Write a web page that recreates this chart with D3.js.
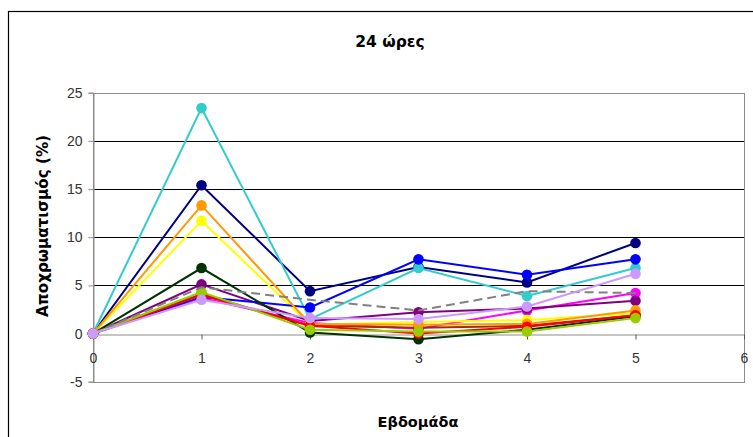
<!DOCTYPE html>
<html>
<head>
<meta charset="utf-8">
<script src="https://cdn.jsdelivr.net/npm/d3@7/dist/d3.min.js"></script>
<style>
  html, body { margin: 0; padding: 0; background: #fff; }
  svg { display: block; font-family: "Liberation Sans", Arial, sans-serif; }
</style>
</head>
<body>
<svg id="chart" width="753" height="437"></svg>
<script>
// Weeks on the x axis
const weeks = [0, 1, 2, 3, 4, 5];
const xTicks = [0, 1, 2, 3, 4, 5, 6];
const yTicks = [-5, 0, 5, 10, 15, 20, 25];

// Discolouration (%) per sample, one array per line
const navyValues     = [0, 15.4, 4.4, 6.9, 5.3, 9.4];
const magentaValues  = [0, 3.7, 1.1, 0.5, 2.4, 4.2];
const yellowValues   = [0, 11.7, 0.9, 1.2, 1.4, 2.1];
const cyanValues     = [0, 23.4, 1.5, 6.8, 3.9, 6.8];
const purpleValues   = [0, 5.1, 1.3, 2.2, 2.6, 3.4];
const brownValues    = [0, 4.1, 0.8, 0.6, 0.8, 1.9];
const blueValues     = [0, 3.8, 2.7, 7.7, 6.1, 7.7];
const darkGreenValues= [0, 6.8, 0.1, -0.6, 0.4, 1.8];
const orangeValues   = [0, 13.3, 1.0, 0.9, 1.0, 2.4];
const redValues      = [0, 4.0, 0.8, 0.0, 0.7, 1.9];
const limeValues     = [0, 4.3, 0.4, 0.2, 0.2, 1.6];
const averageValues  = [0, 4.8, 3.5, 2.4, 4.4, 4.2];
const lavenderValues = [0, 3.5, 1.6, 1.5, 2.8, 6.2];

const series = [
  { values: navyValues,      color: "#000080" },
  { values: magentaValues,   color: "#FF00FF" },
  { values: yellowValues,    color: "#FFFF00" },
  { values: cyanValues,      color: "#33CCCC" },
  { values: purpleValues,    color: "#800080" },
  { values: brownValues,     color: "#993300" },
  { values: blueValues,      color: "#0000FF" },
  { values: darkGreenValues, color: "#003300" },
  { values: orangeValues,    color: "#FF9900" },
  { values: redValues,       color: "#FF0000" },
  { values: limeValues,      color: "#99CC00" },
  { values: averageValues,   color: "#808080", dashed: true },
  { values: lavenderValues,  color: "#CC99FF" }
];

const svg = d3.select("#chart");
const tickFont = "'Liberation Sans', Arial, sans-serif";
const titleFont = "'DejaVu Sans', Verdana, sans-serif";

// Chart frame
svg.append("rect")
  .attr("x", 8.5).attr("y", 11.5)
  .attr("width", 760).attr("height", 440)
  .attr("fill", "#fff").attr("stroke", "#000").attr("stroke-width", 1.2);

const plot = { left: 93, right: 744, top: 92.7, bottom: 381.7 };

const x = d3.scaleLinear().domain([0, 6]).range([plot.left, plot.right]);
const y = d3.scaleLinear().domain([-5, 25]).range([plot.bottom, plot.top]);

// Horizontal gridlines
svg.append("g")
  .selectAll("line")
  .data(yTicks.filter(t => t > 0 && t < 25))
  .join("line")
  .attr("x1", plot.left).attr("x2", plot.right)
  .attr("y1", d => Math.round(y(d)) + 0.5).attr("y2", d => Math.round(y(d)) + 0.5)
  .attr("stroke", "#000").attr("stroke-width", 1);

// Plot area border
svg.append("rect")
  .attr("x", plot.left + 0.5).attr("y", Math.round(plot.top) + 0.5)
  .attr("width", plot.right - plot.left)
  .attr("height", Math.round(plot.bottom) - Math.round(plot.top))
  .attr("fill", "none").attr("stroke", "#8c8c8c").attr("stroke-width", 1);

// Y axis
const yAxis = svg.append("g")
  .attr("transform", `translate(${plot.left + 0.5},0)`)
  .call(d3.axisLeft(y).tickValues(yTicks).tickSize(5).tickPadding(6)
    .tickFormat(d => String(d)));
yAxis.select(".domain").attr("stroke", "#8c8c8c");
yAxis.selectAll(".tick line").attr("stroke", "#8c8c8c");
yAxis.selectAll(".tick text")
  .attr("font-size", 14).attr("fill", "#333")
  .attr("font-family", tickFont);

// X axis along the zero line
const xAxis = svg.append("g")
  .attr("transform", `translate(0,${Math.round(y(0)) + 0.5})`)
  .call(d3.axisBottom(x).tickValues(xTicks).tickSize(5).tickPadding(14)
    .tickFormat(d => String(d)));
xAxis.select(".domain").attr("stroke", "#8c8c8c");
xAxis.selectAll(".tick line").attr("stroke", "#555");
xAxis.selectAll(".tick text")
  .attr("font-size", 14).attr("fill", "#333")
  .attr("font-family", tickFont);

// Lines and markers
const line = d3.line()
  .x((d, i) => x(weeks[i]))
  .y(d => y(d));

const g = svg.append("g");
series.forEach(s => {
  g.append("path")
    .datum(s.values)
    .attr("d", line)
    .attr("fill", "none")
    .attr("stroke", s.color)
    .attr("stroke-width", 2)
    .attr("stroke-dasharray", s.dashed ? "9,5" : null);
  if (!s.dashed) {
    g.selectAll(null)
      .data(s.values)
      .join("circle")
      .attr("cx", (d, i) => x(weeks[i]))
      .attr("cy", d => y(d))
      .attr("r", 5.3)
      .attr("fill", s.color);
  }
});

// Titles
svg.append("text")
  .attr("x", 390).attr("y", 47)
  .attr("text-anchor", "middle")
  .attr("font-family", titleFont)
  .attr("font-size", 15.5).attr("font-weight", "bold")
  .text("24 ώρες");

svg.append("text")
  .attr("x", 418).attr("y", 427)
  .attr("text-anchor", "middle")
  .attr("font-family", titleFont)
  .attr("font-size", 14.5).attr("font-weight", "bold")
  .text("Εβδομάδα");

svg.append("text")
  .attr("transform", "translate(48,226) rotate(-90)")
  .attr("text-anchor", "middle")
  .attr("font-family", titleFont)
  .attr("font-size", 15.2).attr("font-weight", "bold")
  .text("Αποχρωματισμός (%)");
</script>
</body>
</html>
